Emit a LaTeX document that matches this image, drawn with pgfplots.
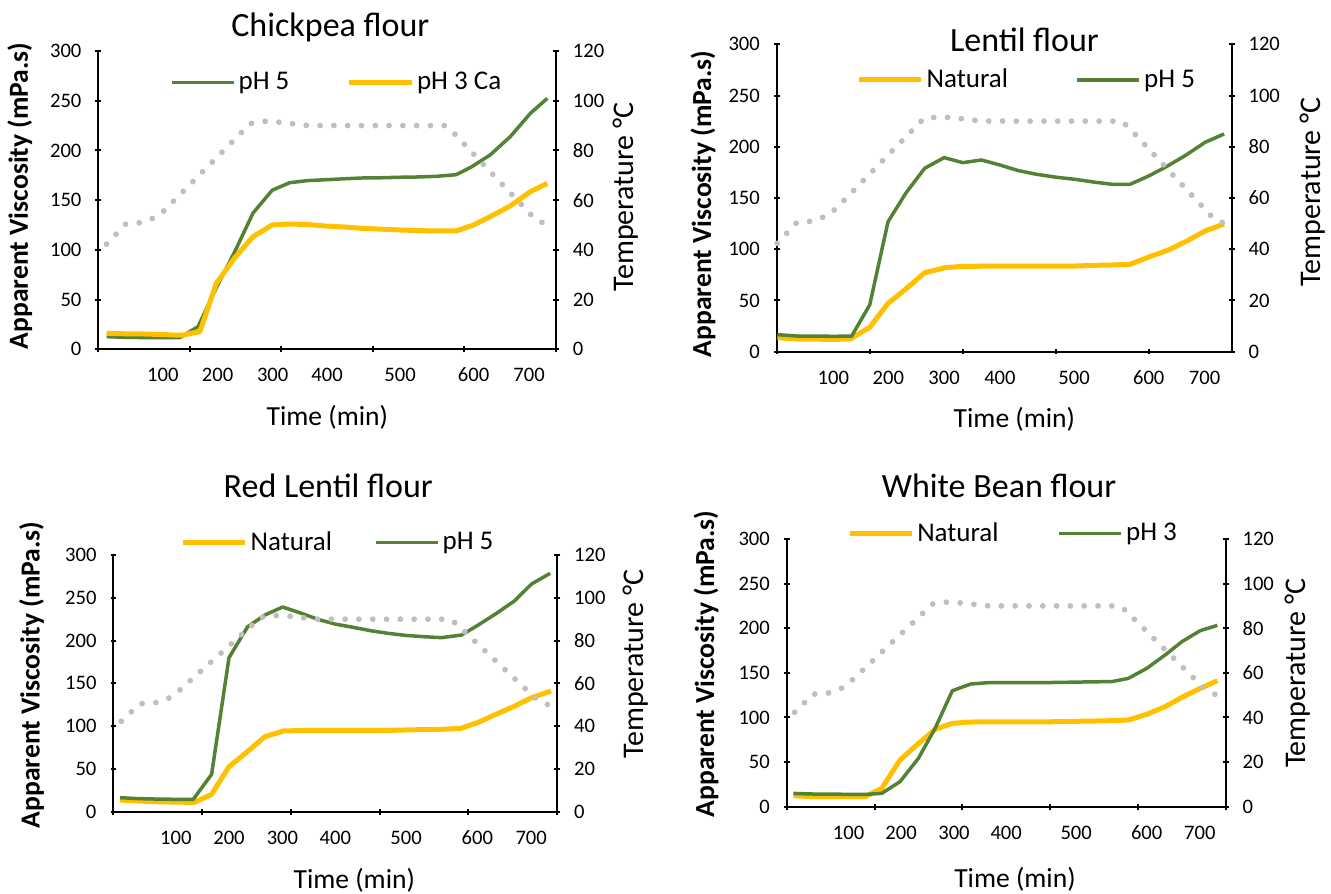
\documentclass[border=0pt]{standalone}
\usepackage{fontspec}
\setmainfont{Carlito}
\usepackage{pgfplots}
\pgfplotsset{compat=1.18}
\definecolor{cgreen}{HTML}{548235}
\definecolor{cyellow}{HTML}{FFC000}
\definecolor{cgray}{HTML}{BFBFBF}
\pgfplotsset{
  base/.style={
    scale only axis, xmin=0, xmax=5,
    tick align=outside, major tick length=2.8pt, minor tick length=2.8pt,
    every tick/.style={black, line width=1pt},
    /pgf/number format/assume math mode=true,
    tick label style={font=\fontsize{10.3}{12}\selectfont},
    clip=false,
  },
  noarrows/.style={
    axis line style={-, line width=1pt, black},
    every outer x axis line/.append style={-},
    every outer y axis line/.append style={-},
    every inner x axis line/.append style={-},
    every inner y axis line/.append style={-},
    x axis line style={-}, y axis line style={-},
  },
  visc/.style={base,
    axis x line=bottom, axis y line=left, noarrows,
    ymin=0, ymax=300, ytick={0,50,...,300},
    minor xtick={0,1,2,3,4,5},
    major x tick style={draw=none},
    minor x tick style={black, line width=1pt},
    xticklabels={100,200,300,400,500,600,700},
    xticklabel style={anchor=center, yshift=-11.45pt},
    yticklabel style={xshift=-3.5pt},
    ylabel={\bfseries Apparent Viscosity (mPa.s)},
    ylabel style={font=\fontsize{13.8}{16}\selectfont, anchor=center},
    xlabel={Time (min)},
    xlabel style={font=\fontsize{13.8}{16}\selectfont, anchor=center},
    title style={font=\fontsize{17}{19}\selectfont, anchor=center, yshift=-6.5pt},
    legend image code/.code={\draw[##1] (0pt,0pt) -- (31pt,0pt);},
    legend style={draw=none, fill=none, anchor=west, legend columns=2,
      font=\fontsize{13.5}{15}\selectfont, inner sep=0pt, nodes={inner sep=1.5pt}},
  },
  temp/.style={base,
    axis x line=none, axis y line=right, noarrows,
    ymin=0, ymax=120, ytick={0,20,...,120}, xtick=\empty,
    yticklabel style={xshift=3.5pt},
    ylabel={Temperature °C},
    ylabel style={font=\fontsize{15}{17}\selectfont, anchor=center},
  },
  gline/.style={cgreen, line width=1.75pt, line join=round},
  yline/.style={cyellow, line width=2.5pt, line join=round},
  tline/.style={cgray, line width=2.9pt, line cap=round, dash pattern=on 0pt off 6.9pt},
}
\pgfplotstableread{
x T
0.09 42.3
0.30 50.4
0.48 51.0
0.63 53.2
0.72 55.8
1.66 90.8
1.82 91.7
2.00 91.3
2.15 90.6
2.30 90.0
3.78 90.0
3.86 88.0
3.96 84.0
4.75 53.2
4.89 50.1
}\tempbase
\pgfplotstableread{
x T
0.005 42.3
0.215 50.4
0.395 51.0
0.545 53.2
0.635 55.8
1.575 90.8
1.735 91.7
1.915 91.3
2.065 90.6
2.215 90.0
3.695 90.0
3.775 88.0
3.875 84.0
4.665 53.2
4.805 50.1
}\temptwo
\begin{document}
\begin{tikzpicture}
\useasboundingbox (0,0) rectangle (665.5pt,446.5pt);
%================ Panel 1: Chickpea
\begin{axis}[visc, at={(49.15pt,271.85pt)}, anchor=south west, width=228.85pt, height=149.15pt,
  title={Chickpea flour}, title style={at={(axis description cs:0.507,1.0815)}},
  ylabel style={at={(axis description cs:-0.1715,0.5146)}},
  xlabel style={at={(axis description cs:0.5005,-0.2286)}},
  xtick={0.705,1.303,1.905,2.50,3.297,4.10,4.706},
  legend style={at={(axis description cs:0.156,0.894)}, /tikz/every even column/.append style={column sep=27.3pt}}]
\addplot[gline] coordinates {(0.09,12.7) (0.30,12) (0.50,11.8) (0.70,11.7) (0.89,11.7) (1.09,22.8) (1.29,62) (1.49,98) (1.69,137) (1.90,160) (2.09,167.5) (2.28,169.6) (2.48,170.5) (2.69,171.5) (2.89,172.3) (3.09,172.5) (3.29,173) (3.50,173.3) (3.70,174) (3.91,175.6) (4.08,183.6) (4.28,195.4) (4.50,213.8) (4.72,237.3) (4.905,252.3)};
\addlegendentry{pH 5}
\addplot[yline] coordinates {(0.09,16) (0.30,15.6) (0.50,15.4) (0.70,14.8) (0.91,14.1) (1.11,17.8) (1.29,66.4) (1.49,92) (1.69,113.3) (1.90,125) (2.09,126) (2.28,125.5) (2.48,124) (2.69,123) (2.89,121.6) (3.09,120.8) (3.29,120) (3.50,119.4) (3.70,119) (3.91,119) (4.10,125) (4.28,133.4) (4.50,144.1) (4.72,158.5) (4.905,166.9)};
\addlegendentry{pH 3 Ca}
\end{axis}
\begin{axis}[temp, at={(49.15pt,271.85pt)}, anchor=south west, width=228.85pt, height=149.15pt,
  ylabel style={at={(axis description cs:1.153,0.51)}}]
\addplot[tline] table[x=x,y=T] {\tempbase};
\end{axis}
%================ Panel 2: Lentil
\begin{axis}[visc, at={(388.35pt,270.65pt)}, anchor=south west, width=227.5pt, height=153.7pt, xmax=4.892,
  title={Lentil flour}, title style={at={(axis description cs:0.5446,1.0166)}},
  ylabel style={at={(axis description cs:-0.162,0.4805)}},
  xlabel style={at={(axis description cs:0.5224,-0.219)}},
  xtick={0.609,1.2,1.8,2.40,3.197,4.0,4.6},
  legend style={at={(axis description cs:0.175,0.884)}, /tikz/every even column/.append style={column sep=32.3pt}}]
\addplot[yline] coordinates {(0.007,13.7) (0.215,12.4) (0.41,12.2) (0.61,12) (0.79,12.4) (1.0,23.8) (1.197,47.2) (1.376,60.2) (1.591,77.1) (1.81,82) (2.0,83.3) (2.2,83.4) (2.4,83.4) (2.6,83.4) (2.8,83.4) (3.0,83.4) (3.2,83.6) (3.4,84.2) (3.6,84.6) (3.80,85.3) (4.01,92.7) (4.21,99.2) (4.41,108) (4.61,118) (4.81,124.6)};
\addlegendentry{Natural}
\addplot[gline] coordinates {(0.007,16.6) (0.215,15.3) (0.41,15.3) (0.61,15) (0.806,15.3) (1.0,45.6) (1.197,126.9) (1.394,155.5) (1.591,179) (1.8,189.4) (2.0,184.5) (2.2,187.1) (2.4,182.2) (2.598,176.7) (2.796,173.1) (3.01,170.2) (3.21,168.2) (3.405,165.6) (3.60,163.4) (3.80,163.4) (4.0,171.5) (4.19,180.6) (4.39,191.3) (4.605,204.3) (4.81,212.5)};
\addlegendentry{pH 5}
\end{axis}
\begin{axis}[temp, at={(388.35pt,270.65pt)}, anchor=south west, width=227.5pt, height=153.7pt, xmax=4.892,
  ylabel style={at={(axis description cs:1.1776,0.52)}}]
\addplot[tline] table[x=x,y=T] {\temptwo};
\end{axis}
%================ Panel 3: Red Lentil
\begin{axis}[visc, at={(56.65pt,40.65pt)}, anchor=south west, width=222pt, height=128.35pt,
  title={Red Lentil flour}, title style={at={(axis description cs:0.4842,1.2715)}},
  ylabel style={at={(axis description cs:-0.184,0.5325)}},
  xlabel style={at={(axis description cs:0.5428,-0.266)}},
  xtick={0.705,1.303,1.905,2.50,3.297,4.10,4.706},
  legend style={at={(axis description cs:0.151,1.048)}, /tikz/every even column/.append style={column sep=19.5pt}}]
\addplot[yline] coordinates {(0.075,13.6) (0.27,12.5) (0.469,11.7) (0.69,11.2) (0.912,10.9) (1.107,20.3) (1.303,52.6) (1.5,69.3) (1.708,87.7) (1.914,94.3) (2.12,95) (2.3,95) (2.5,95) (2.7,95) (2.9,95) (3.1,95) (3.3,95.5) (3.5,96) (3.7,96.2) (3.915,97.4) (4.11,104.4) (4.317,114.2) (4.516,123.1) (4.71,133.2) (4.93,141)};
\addlegendentry{Natural}
\addplot[gline] coordinates {(0.075,16.4) (0.27,15.3) (0.469,14.8) (0.69,14.5) (0.9,14.4) (1.107,43.6) (1.303,180) (1.513,216.2) (1.708,229.9) (1.907,239.2) (2.12,231.8) (2.3,225) (2.496,219.3) (2.7,215.5) (2.9,211.5) (3.097,208.4) (3.3,206) (3.5,204.5) (3.697,203.4) (3.923,206.5) (4.11,218.2) (4.298,230.6) (4.516,246.2) (4.71,266.1) (4.92,278.6)};
\addlegendentry{pH 5}
\end{axis}
\begin{axis}[temp, at={(56.65pt,40.65pt)}, anchor=south west, width=222pt, height=128.35pt,
  ylabel style={at={(axis description cs:1.176,0.575)}}]
\addplot[tline] table[x=x,y=T] {\tempbase};
\end{axis}
%================ Panel 4: White Bean
\begin{axis}[visc, at={(393.35pt,43.15pt)}, anchor=south west, width=219.5pt, height=133.85pt,
  title={White Bean flour}, title style={at={(axis description cs:0.4836,1.2006)}},
  ylabel style={at={(axis description cs:-0.184,0.533)}},
  xlabel style={at={(axis description cs:0.520,-0.270)}},
  xtick={0.705,1.303,1.905,2.50,3.297,4.10,4.706},
  legend style={at={(axis description cs:0.137,1.021)}, /tikz/every even column/.append style={column sep=28pt}}]
\addplot[yline] coordinates {(0.076,12.3) (0.304,11.2) (0.5,11.2) (0.7,11.2) (0.892,11.2) (1.082,20.5) (1.29,52.3) (1.48,69.1) (1.69,86.7) (1.887,93.4) (2.088,94.9) (2.3,95) (2.5,95) (2.7,95) (2.9,95) (3.1,95.3) (3.3,95.7) (3.5,96) (3.683,96.4) (3.89,97.1) (4.1,103.5) (4.31,112.1) (4.5,122.5) (4.71,132.6) (4.905,141.2)};
\addlegendentry{Natural}
\addplot[gline] coordinates {(0.076,14.9) (0.304,14.2) (0.5,14.2) (0.7,13.8) (0.892,13.8) (1.082,14.9) (1.29,28) (1.5,54.2) (1.69,87.8) (1.887,130) (2.096,137.5) (2.297,139) (2.5,139) (2.7,139) (2.9,139) (3.1,139.3) (3.3,139.6) (3.5,140) (3.7,140.1) (3.89,143.8) (4.1,155) (4.31,170) (4.5,184.9) (4.71,197.3) (4.905,203.2)};
\addlegendentry{pH 3}
\end{axis}
\begin{axis}[temp, at={(393.35pt,43.15pt)}, anchor=south west, width=219.5pt, height=133.85pt,
  ylabel style={at={(axis description cs:1.163,0.498)}}]
\addplot[tline] table[x=x,y=T] {\tempbase};
\end{axis}
\end{tikzpicture}
\end{document}
